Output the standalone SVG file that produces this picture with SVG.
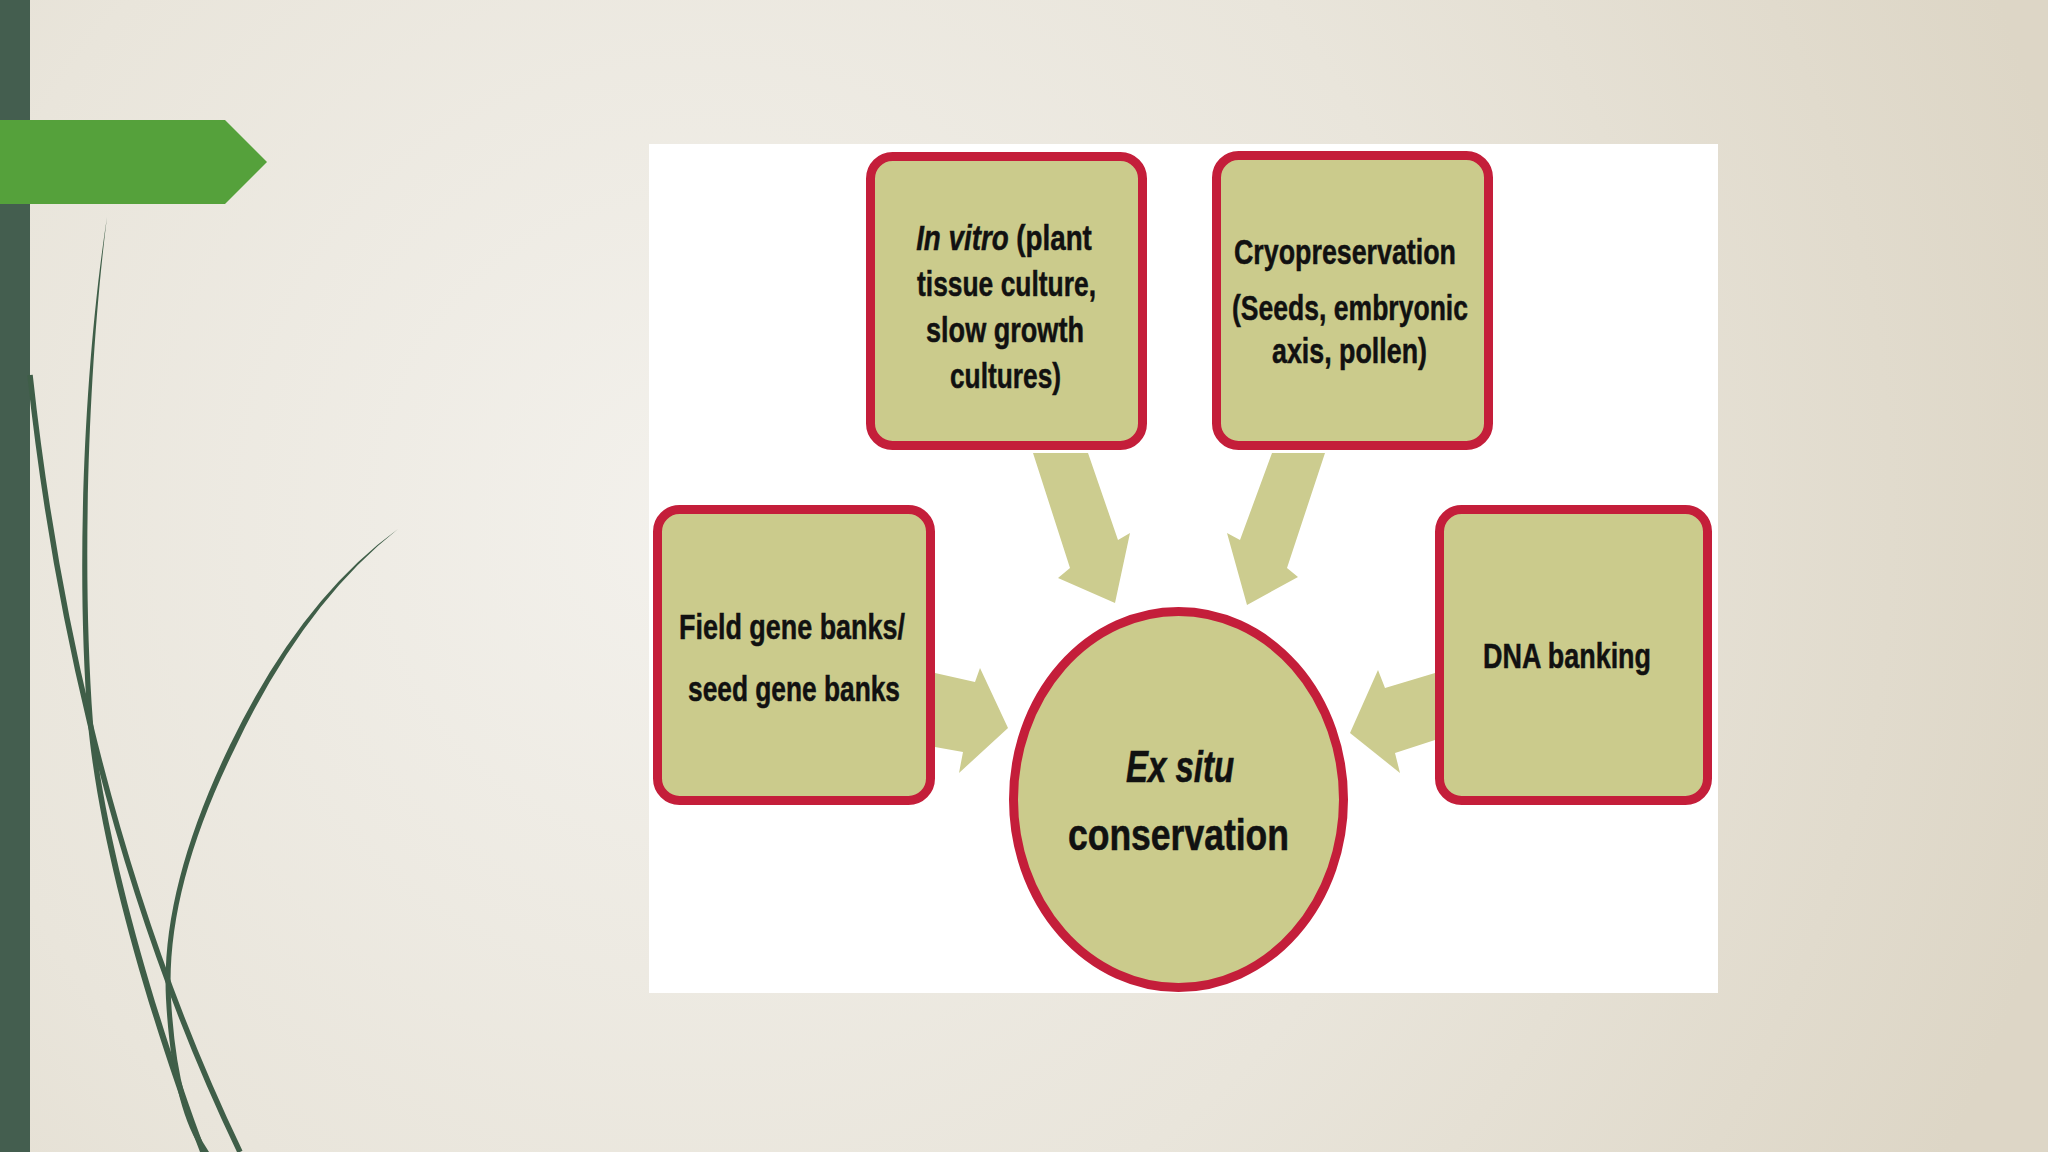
<svg xmlns="http://www.w3.org/2000/svg" width="2048" height="1152" viewBox="0 0 2048 1152">
<defs>
<radialGradient id="bg" cx="700" cy="520" r="1400" gradientUnits="userSpaceOnUse">
<stop offset="0" stop-color="#f3f1ec"/>
<stop offset="0.55" stop-color="#e9e5db"/>
<stop offset="1" stop-color="#ddd6c6"/>
</radialGradient>
<style>
.box{fill:#cbcb8c;stroke:#c41e3a;stroke-width:9}
.arrow{fill:#cccc8f}
.grass{fill:#3f5e48;stroke:none}
.t{font-family:"Liberation Sans",Arial,sans-serif;font-weight:bold;font-size:35px;fill:#111;stroke:#111;stroke-width:0.5}
.tc{font-family:"Liberation Sans",Arial,sans-serif;font-weight:bold;font-size:45px;fill:#111;stroke:#111;stroke-width:0.6}
</style>
</defs>
<rect x="0" y="0" width="2048" height="1152" fill="url(#bg)"/>
<g id="decor">
<rect x="0" y="0" width="30" height="1152" fill="#445e4f"/>
<path fill="none" stroke="#3f5e48" stroke-width="5.5" d="M30,375 C50,560 100,860 240,1152"/>
<path class="grass" d="M107,217 C85,360 75,560 88,724 C100,850 150,1020 200,1152 L206,1152 C156,1018 106,848 93,723 C81,560 89,360 107,217 Z"/>
<path class="grass" d="M398,529 Q300,600 230,745 Q160,890 166,999 Q172,1108 203,1152 L209,1152 Q177,1106 171,999 Q165,890 235,748 Q303,604 398,529 Z"/>
<polygon points="0,120 225,120 267,162 225,204 0,204" fill="#55a13b"/>
</g>
<rect id="panel" x="649" y="144" width="1069" height="849" fill="#ffffff"/>
<g id="connectors">
<polygon class="arrow" points="1033,453 1088,453 1118,540 1130,533 1115,603 1058,578 1070,568"/>
<polygon class="arrow" points="1272,453 1325,453 1287,568 1298,577 1247,605 1227,533 1240,540"/>
<polygon class="arrow" points="935,673 975,682 980,668 1008,728 959,773 963,752 935,747"/>
<polygon class="arrow" points="1435,673 1385,688 1378,670 1350,733 1400,773 1395,753 1435,740"/>
</g>
<g id="node-invitro">
<rect class="box" x="870.5" y="156.5" width="272" height="289" rx="22"/>
<text class="t" text-anchor="middle" transform="translate(1004,250) scale(0.793,1)"><tspan font-style="italic">In vitro</tspan> (plant</text>
<text class="t" x="917" y="296" textLength="179" lengthAdjust="spacingAndGlyphs">tissue culture,</text>
<text class="t" x="926" y="342" textLength="158" lengthAdjust="spacingAndGlyphs">slow growth</text>
<text class="t" x="950" y="388" textLength="111" lengthAdjust="spacingAndGlyphs">cultures)</text>
</g>
<g id="node-cryo">
<rect class="box" x="1216.5" y="155.5" width="272" height="290" rx="22"/>
<text class="t" x="1234" y="264" textLength="222" lengthAdjust="spacingAndGlyphs">Cryopreservation</text>
<text class="t" x="1232" y="320" textLength="236" lengthAdjust="spacingAndGlyphs">(Seeds, embryonic</text>
<text class="t" x="1272" y="363" textLength="155" lengthAdjust="spacingAndGlyphs">axis, pollen)</text>
</g>
<g id="node-field">
<rect class="box" x="657.5" y="509.5" width="273" height="291" rx="22"/>
<text class="t" x="679" y="639" textLength="226" lengthAdjust="spacingAndGlyphs">Field gene banks/</text>
<text class="t" x="688" y="701" textLength="212" lengthAdjust="spacingAndGlyphs">seed gene banks</text>
</g>
<g id="node-dna">
<rect class="box" x="1439.5" y="509.5" width="268" height="291" rx="22"/>
<text class="t" x="1483" y="668" textLength="168" lengthAdjust="spacingAndGlyphs">DNA banking</text>
</g>
<g id="node-exsitu">
<ellipse class="box" cx="1178.5" cy="799.5" rx="165" ry="188"/>
<text class="tc" x="1126" y="782" textLength="108" lengthAdjust="spacingAndGlyphs" font-style="italic">Ex situ</text>
<text class="tc" x="1068" y="850" textLength="221" lengthAdjust="spacingAndGlyphs">conservation</text>
</g>
</svg>
